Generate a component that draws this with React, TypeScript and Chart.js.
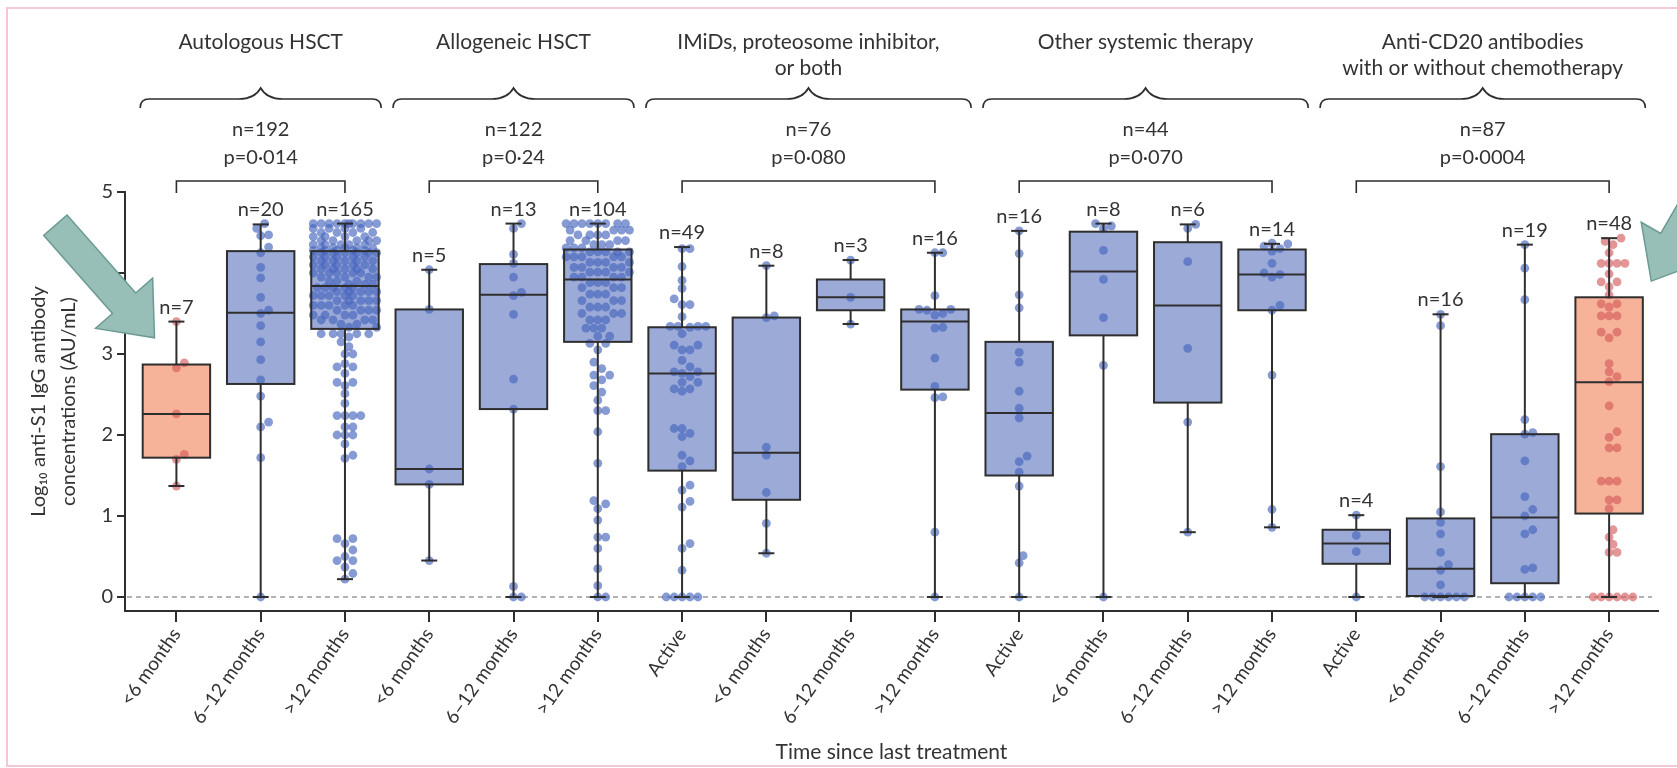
import React, { useEffect, useRef } from 'react';
import { Chart, registerables } from 'chart.js';

Chart.register(...registerables);

const FONT = "Lato, 'Liberation Sans', 'DejaVu Sans', sans-serif";
const TEXT = '#333333';
const LINE = '#2e2e2e';
const BLUE_FILL = '#9caad8';
const ORANGE_FILL = '#f6b39a';
const BLUE_DOT = 'rgba(72,102,190,0.66)';
const ORANGE_DOT = 'rgba(212,90,90,0.64)';

// ---- categories (x axis) ----
const categoryLabels = [
  '<6 months', '6–12 months', '>12 months',
  '<6 months', '6–12 months', '>12 months',
  'Active', '<6 months', '6–12 months', '>12 months',
  'Active', '<6 months', '6–12 months', '>12 months',
  'Active', '<6 months', '6–12 months', '>12 months',
];
const boxN = [7, 20, 165, 5, 13, 104, 49, 8, 3, 16, 16, 8, 6, 14, 4, 16, 19, 48];
const highlighted = [true, false, false, false, false, false, false, false, false, false, false, false, false, false, false, false, false, true];

// ---- box statistics (log10 AU/mL) ----
const whiskerLow = [1.37, 0, 0.22, 0.45, 0, 0, 0, 0.54, 3.37, 0, 0, 0, 0.80, 0.86, 0, 0, 0, 0];
const q1 = [1.72, 2.63, 3.31, 1.39, 2.32, 3.15, 1.56, 1.20, 3.54, 2.56, 1.50, 3.23, 2.40, 3.54, 0.41, 0, 0.17, 1.03];
const median = [2.26, 3.51, 3.84, 1.58, 3.73, 3.92, 2.76, 1.78, 3.70, 3.40, 2.27, 4.02, 3.60, 3.98, 0.66, 0.35, 0.98, 2.65];
const q3 = [2.87, 4.27, 4.27, 3.55, 4.11, 4.29, 3.33, 3.45, 3.92, 3.55, 3.15, 4.51, 4.38, 4.29, 0.83, 0.97, 2.01, 3.70];
const whiskerHigh = [3.40, 4.60, 4.61, 4.04, 4.61, 4.61, 4.32, 4.09, 4.16, 4.25, 4.52, 4.61, 4.60, 4.36, 1.01, 3.49, 4.35, 4.43];

// ---- individual observations ----
const autoLt6 = [3.40, 2.89, 2.83, 2.26, 1.76, 1.70, 1.37];
const auto6to12 = [4.61, 4.55, 4.47, 4.46, 4.32, 4.25, 4.07, 3.94, 3.70, 3.54, 3.50, 3.35, 3.15, 2.93, 2.68, 2.48, 2.16, 2.10, 1.72, 0];
const autoGt12 = [
  4.61, 4.61, 4.61, 4.61, 4.61, 4.61, 4.61, 4.61, 4.61, 4.61,
  4.55, 4.55, 4.55, 4.55, 4.50, 4.50, 4.50, 4.50, 4.45, 4.45, 4.45, 4.45,
  4.40, 4.40, 4.40, 4.40, 4.40, 4.35, 4.35, 4.35, 4.35, 4.35,
  4.31, 4.31, 4.31, 4.31, 4.31, 4.28, 4.28, 4.28, 4.28, 4.28,
  4.25, 4.25, 4.25, 4.25, 4.25, 4.25, 4.20, 4.20, 4.20, 4.20, 4.20,
  4.15, 4.15, 4.15, 4.15, 4.15, 4.10, 4.10, 4.10, 4.10, 4.10,
  4.05, 4.05, 4.05, 4.05, 4.05, 4.00, 4.00, 4.00, 4.00, 4.00,
  3.95, 3.95, 3.95, 3.95, 3.90, 3.90, 3.90, 3.86, 3.86, 3.86,
  3.82, 3.82, 3.82, 3.82, 3.82, 3.77, 3.77, 3.77, 3.77, 3.77,
  3.72, 3.72, 3.72, 3.72, 3.72, 3.66, 3.66, 3.66, 3.66, 3.66,
  3.60, 3.60, 3.60, 3.60, 3.60, 3.54, 3.54, 3.54, 3.54,
  3.48, 3.48, 3.48, 3.48, 3.42, 3.42, 3.42, 3.42, 3.37, 3.37, 3.33, 3.33,
  3.25, 3.25, 3.25, 3.25, 3.25, 3.21, 3.15, 3.09, 3.00, 3.00,
  2.88, 2.84, 2.84, 2.76, 2.65, 2.65, 2.61, 2.51, 2.39,
  2.24, 2.24, 2.24, 2.24, 2.10, 2.10, 2.00, 2.00, 2.00, 1.89, 1.75, 1.71,
  0.72, 0.72, 0.66, 0.58, 0.50, 0.45, 0.45, 0.37, 0.29, 0.22,
];
const alloLt6 = [4.04, 3.55, 1.58, 1.39, 0.45];
const allo6to12 = [4.61, 4.55, 4.23, 4.12, 3.95, 3.76, 3.72, 3.49, 2.69, 2.32, 0.13, 0, 0];
const alloGt12 = [
  4.61, 4.61, 4.61, 4.61, 4.61, 4.61, 4.61, 4.61,
  4.53, 4.53, 4.53, 4.53, 4.47, 4.47, 4.47, 4.47, 4.40, 4.40, 4.40, 4.40,
  4.35, 4.35, 4.35, 4.31, 4.31, 4.31,
  4.26, 4.26, 4.26, 4.26, 4.26, 4.20, 4.20, 4.20, 4.20, 4.20,
  4.13, 4.13, 4.13, 4.13, 4.07, 4.07, 4.07, 4.07, 4.01, 4.01, 4.01, 4.01,
  3.95, 3.95, 3.95, 3.95,
  3.88, 3.88, 3.88, 3.82, 3.82, 3.82, 3.74, 3.74, 3.74, 3.66, 3.66, 3.66,
  3.58, 3.58, 3.58, 3.50, 3.50, 3.50, 3.42, 3.42, 3.42, 3.32, 3.32, 3.32, 3.22, 3.22,
  3.13, 3.13, 3.05, 2.90, 2.82, 2.74, 2.74, 2.68, 2.61, 2.53, 2.43, 2.30, 2.30,
  2.04, 1.65, 1.19, 1.15, 1.09, 0.95, 0.74, 0.74, 0.60, 0.35, 0.14, 0, 0,
];
const imidActive = [
  4.30, 4.30, 4.08, 3.91, 3.81, 3.68, 3.61, 3.61, 3.46, 3.34, 3.34, 3.34, 3.34, 3.33,
  3.25, 3.11, 3.11, 3.05, 3.05, 2.92, 2.84, 2.78, 2.78, 2.76, 2.72, 2.65, 2.65,
  2.57, 2.57, 2.54, 2.08, 2.08, 2.02, 1.98, 1.75, 1.68, 1.61, 1.38, 1.32, 1.18, 1.11,
  0.66, 0.60, 0.33, 0, 0, 0, 0, 0,
];
const imidLt6 = [4.09, 3.47, 3.45, 1.85, 1.75, 1.29, 0.91, 0.54];
const imid6to12 = [4.16, 3.70, 3.37];
const imidGt12 = [4.25, 4.25, 3.72, 3.55, 3.55, 3.54, 3.50, 3.48, 3.33, 3.32, 2.95, 2.60, 2.47, 2.46, 0.80, 0];
const otherActive = [4.52, 4.24, 3.73, 3.57, 3.02, 2.90, 2.54, 2.33, 2.21, 1.74, 1.67, 1.54, 1.37, 0.51, 0.42, 0];
const otherLt6 = [4.61, 4.58, 4.55, 4.28, 3.92, 3.45, 2.86, 0];
const other6to12 = [4.60, 4.55, 4.14, 3.07, 2.16, 0.80];
const otherGt12 = [4.37, 4.36, 4.33, 4.30, 4.27, 4.12, 4.00, 3.98, 3.95, 3.60, 3.54, 2.74, 1.08, 0.86];
const cd20Active = [1.01, 0.76, 0.56, 0];
const cd20Lt6 = [3.49, 3.35, 1.61, 1.05, 0.92, 0.78, 0.55, 0.40, 0.33, 0.15, 0, 0, 0, 0, 0, 0];
const cd20_6to12 = [4.35, 4.06, 3.67, 2.19, 2.03, 2.01, 1.68, 1.24, 1.08, 1.00, 0.83, 0.78, 0.36, 0.34, 0, 0, 0, 0, 0];
const cd20Gt12 = [
  4.43, 4.39, 4.35, 4.25, 4.12, 4.12, 4.12, 4.12, 3.99, 3.89, 3.89, 3.83, 3.73, 3.62, 3.62,
  3.58, 3.47, 3.47, 3.47, 3.27, 3.27, 3.20, 2.88, 2.78, 2.72, 2.66, 2.36, 2.04, 1.97,
  1.84, 1.84, 1.43, 1.43, 1.43, 1.20, 1.20, 1.09, 0.83, 0.74, 0.65, 0.55, 0.55,
  0, 0, 0, 0, 0, 0,
];
const observations = [
  autoLt6, auto6to12, autoGt12, alloLt6, allo6to12, alloGt12,
  imidActive, imidLt6, imid6to12, imidGt12,
  otherActive, otherLt6, other6to12, otherGt12,
  cd20Active, cd20Lt6, cd20_6to12, cd20Gt12,
];

// ---- treatment groups (header) ----
const groupTitles = [
  ['Autologous HSCT'],
  ['Allogeneic HSCT'],
  ['IMiDs, proteosome inhibitor,', 'or both'],
  ['Other systemic therapy'],
  ['Anti-CD20 antibodies', 'with or without chemotherapy'],
];
const groupFirst = [0, 3, 6, 10, 14];
const groupLast = [2, 5, 9, 13, 17];
const groupN = ['n=192', 'n=122', 'n=76', 'n=44', 'n=87'];
const groupP = ['p=0·014', 'p=0·24', 'p=0·080', 'p=0·070', 'p=0·0004'];

const yTicks = [0, 1, 2, 3, 4, 5];

// arrows pointing at the highlighted boxes: [category position, value, dirX, dirY]
const arrowTargets = [
  [-0.26, 3.2, 0.66, 0.75],
  [17.5, 3.9, -0.5, 0.87],
];

// style constants
const BOX_WIDTH = 0.8;
const CAP_WIDTH = 0.19;
const DOT_X = 0.094; // dot diameter in category units
const DOT_Y = 0.1; // dot diameter in log units
const MAX_OFF = 0.42;

function swarm(values: number[]): number[] {
  const order = values.map((_, i) => i).sort((a, b) => values[a] - values[b]);
  const step = DOT_X / 2;
  const n = Math.floor(MAX_OFF / step);
  const cands = [0];
  for (let k = 1; k <= n; k++) cands.push(k * step, -k * step);
  const placed: { x: number; y: number }[] = [];
  const offs = new Array(values.length).fill(0);
  for (const i of order) {
    const v = values[i];
    let best = 0;
    let bestScore = -1;
    for (const c of cands) {
      let minD = Infinity;
      for (const p of placed) {
        const dy = (p.y - v) / DOT_Y;
        if (Math.abs(dy) >= 1) continue;
        const d = Math.hypot((p.x - c) / DOT_X, dy);
        if (d < minD) minD = d;
      }
      if (minD >= 1) { best = c; bestScore = Infinity; break; }
      if (minD > bestScore) { bestScore = minD; best = c; }
    }
    offs[i] = best;
    placed.push({ x: best, y: v });
  }
  return offs;
}

function drawArrow(ctx: CanvasRenderingContext2D, tx: number, ty: number, dx: number, dy: number) {
  const len = Math.hypot(dx, dy);
  const ux = dx / len, uy = dy / len;
  const nx = -uy, ny = ux;
  const L = 150, headL = 46, shaftW = 31, headW = 76;
  const bx = tx - ux * headL, by = ty - uy * headL;
  const sx = tx - ux * L, sy = ty - uy * L;
  const pts = [
    [sx + nx * shaftW / 2, sy + ny * shaftW / 2],
    [bx + nx * shaftW / 2, by + ny * shaftW / 2],
    [bx + nx * headW / 2, by + ny * headW / 2],
    [tx, ty],
    [bx - nx * headW / 2, by - ny * headW / 2],
    [bx - nx * shaftW / 2, by - ny * shaftW / 2],
    [sx - nx * shaftW / 2, sy - ny * shaftW / 2],
  ];
  ctx.beginPath();
  pts.forEach(([x, y], i) => (i ? ctx.lineTo(x, y) : ctx.moveTo(x, y)));
  ctx.closePath();
  ctx.fillStyle = '#97bfb8';
  ctx.fill();
  ctx.strokeStyle = '#6b9a93';
  ctx.lineWidth = 1.5;
  ctx.stroke();
}

const boxPlugin = {
  id: 'boxPlot',
  beforeDatasetsDraw(chart: any) {
    const { ctx, chartArea, scales } = chart;
    const y0 = scales.y.getPixelForValue(0);
    ctx.save();
    ctx.setLineDash([5, 4]);
    ctx.strokeStyle = '#9a9a9a';
    ctx.lineWidth = 1.5;
    ctx.beginPath();
    ctx.moveTo(chartArea.left + 2, y0);
    ctx.lineTo(chartArea.right - 6, y0);
    ctx.stroke();
    ctx.restore();
  },
  afterDatasetsDraw(chart: any) {
    const { ctx, scales } = chart;
    const xs = scales.x, ys = scales.y;
    const meta = chart.getDatasetMeta(0);
    ctx.save();
    ctx.strokeStyle = LINE;
    ctx.lineWidth = 2;
    const seg = (a: number, b: number, c: number, d: number) => {
      ctx.beginPath(); ctx.moveTo(a, b); ctx.lineTo(c, d); ctx.stroke();
    };
    meta.data.forEach((bar: any, i: number) => {
      const { x, y, base, width } = bar.getProps(['x', 'y', 'base', 'width'], true);
      const left = x - width / 2;
      const top = Math.min(y, base);
      const bottom = Math.max(y, base);
      ctx.strokeRect(left, top, width, bottom - top);
      const ym = ys.getPixelForValue(median[i]);
      seg(left, ym, left + width, ym);
      const capHalf = xs.getPixelForValue(i + CAP_WIDTH / 2) - xs.getPixelForValue(i);
      const yh = ys.getPixelForValue(whiskerHigh[i]);
      const yl = ys.getPixelForValue(whiskerLow[i]);
      if (yh < top - 0.5) { seg(x, top, x, yh); seg(x - capHalf, yh, x + capHalf, yh); }
      if (yl > bottom + 0.5) { seg(x, bottom, x, yl); seg(x - capHalf, yl, x + capHalf, yl); }
      ctx.fillStyle = TEXT;
      ctx.font = `20px ${FONT}`;
      ctx.textAlign = 'center';
      ctx.textBaseline = 'alphabetic';
      ctx.fillText(`n=${boxN[i]}`, x, yh - 8);
    });
    ctx.restore();
  },
  afterDraw(chart: any) {
    const { ctx, scales } = chart;
    const xs = scales.x, ys = scales.y;
    ctx.save();
    ctx.fillStyle = TEXT;
    ctx.strokeStyle = LINE;
    ctx.lineWidth = 1.6;
    ctx.textAlign = 'center';
    ctx.textBaseline = 'middle';
    groupTitles.forEach((lines, g) => {
      const f = groupFirst[g], l = groupLast[g];
      const xc = xs.getPixelForValue((f + l) / 2);
      ctx.font = `21px ${FONT}`;
      lines.forEach((t, k) => ctx.fillText(t, xc, 42 + k * 26));
      const half = (l - f) / 2 + 0.43;
      const x1 = xs.getPixelForValue((f + l) / 2 - half);
      const x2 = xs.getPixelForValue((f + l) / 2 + half);
      const yL = 99, yP = 88, yE = 108, r = 9;
      ctx.beginPath();
      ctx.moveTo(x1, yE);
      ctx.quadraticCurveTo(x1, yL, x1 + r, yL);
      ctx.lineTo(xc - 22, yL);
      ctx.quadraticCurveTo(xc - 6, yL, xc, yP);
      ctx.quadraticCurveTo(xc + 6, yL, xc + 22, yL);
      ctx.lineTo(x2 - r, yL);
      ctx.quadraticCurveTo(x2, yL, x2, yE);
      ctx.stroke();
      ctx.font = `20px ${FONT}`;
      ctx.fillText(groupN[g], xc, 130);
      ctx.fillText(groupP[g], xc, 158);
      const bx1 = xs.getPixelForValue(f), bx2 = xs.getPixelForValue(l);
      ctx.beginPath();
      ctx.moveTo(bx1, 193);
      ctx.lineTo(bx1, 181);
      ctx.lineTo(bx2, 181);
      ctx.lineTo(bx2, 193);
      ctx.stroke();
    });
    arrowTargets.forEach(([c, v, dx, dy]) => {
      drawArrow(ctx, xs.getPixelForValue(c), ys.getPixelForValue(v), dx, dy);
    });
    ctx.restore();
  },
};

export default function App() {
  const ref = useRef<HTMLCanvasElement | null>(null);
  useEffect(() => {
    document.body.style.margin = '0';
    const blue: any[] = [];
    const orange: any[] = [];
    observations.forEach((vals, i) => {
      const offs = swarm(vals);
      vals.forEach((v, k) => {
        const pt = { x: i + offs[k], y: v };
        if (highlighted[i]) orange.push(pt); else blue.push(pt);
      });
    });
    const chart = new Chart(ref.current as HTMLCanvasElement, {
      type: 'bar',
      data: {
        datasets: [
          {
            type: 'bar',
            data: categoryLabels.map((_, i) => ({ x: i, y: [q1[i], q3[i]] })) as any,
            backgroundColor: highlighted.map((h) => (h ? ORANGE_FILL : BLUE_FILL)),
            borderWidth: 0,
            barPercentage: BOX_WIDTH,
            categoryPercentage: 1,
            order: 2,
          } as any,
          {
            type: 'scatter',
            data: blue,
            backgroundColor: BLUE_DOT,
            borderWidth: 0,
            pointRadius: 4.4,
            order: 1,
          } as any,
          {
            type: 'scatter',
            data: orange,
            backgroundColor: ORANGE_DOT,
            borderWidth: 0,
            pointRadius: 4.4,
            order: 0,
          } as any,
        ],
      },
      options: {
        responsive: false,
        animation: false,
        devicePixelRatio: 1,
        layout: { padding: { top: 192, right: 19, bottom: 0, left: 0 } },
        plugins: { legend: { display: false }, tooltip: { enabled: false } },
        scales: {
          x: {
            type: 'linear',
            offset: false,
            bounds: 'data',
            min: -0.61,
            max: 17.58,
            afterBuildTicks: (s: any) => { s.ticks = categoryLabels.map((_, i) => ({ value: i })); },
            afterFit: (s: any) => { s.height = 157; s.paddingLeft = 0; s.paddingRight = 0; },
            ticks: {
              autoSkip: false,
              minRotation: 55,
              maxRotation: 55,
              padding: 2,
              color: TEXT,
              font: { family: FONT, size: 19 },
              callback: (_v: any, i: number) => categoryLabels[i],
            },
            grid: { offset: false, drawOnChartArea: false, drawTicks: true, tickLength: 11, color: LINE, lineWidth: 2 },
            border: { display: true, color: LINE, width: 2 },
            title: {
              display: true,
              text: 'Time since last treatment',
              color: TEXT,
              font: { family: FONT, size: 21 },
              padding: { top: 0, bottom: 3 },
            },
          },
          y: {
            min: -0.173,
            max: 5,
            beginAtZero: false,
            afterBuildTicks: (s: any) => { s.ticks = yTicks.map((v) => ({ value: v })); },
            afterFit: (s: any) => { s.width = 125; s.paddingTop = 0; s.paddingBottom = 0; },
            ticks: {
              padding: 4,
              color: TEXT,
              font: { family: FONT, size: 20 },
              callback: (v: any) => String(v),
            },
            grid: { drawOnChartArea: false, drawTicks: true, tickLength: 8, color: LINE, lineWidth: 2 },
            border: { display: true, color: LINE, width: 2 },
            title: {
              display: true,
              text: ['Log₁₀ anti-S1 IgG antibody', 'concentrations (AU/mL)'],
              color: TEXT,
              font: { family: FONT, size: 20, lineHeight: 1.5 },
              padding: { top: 24, bottom: 0 },
            },
          },
        },
      } as any,
      plugins: [boxPlugin],
    });
    return () => chart.destroy();
  }, []);
  return (
    <div style={{ position: 'relative', width: 1677, height: 768, overflow: 'hidden', background: '#fff' }}>
      <div style={{ position: 'absolute', left: 6, top: 7, width: 1700, height: 756, border: '2px solid #f2c8d3' }} />
      <canvas ref={ref} width={1677} height={768} style={{ position: 'absolute', left: 0, top: 0 }} />
    </div>
  );
}
